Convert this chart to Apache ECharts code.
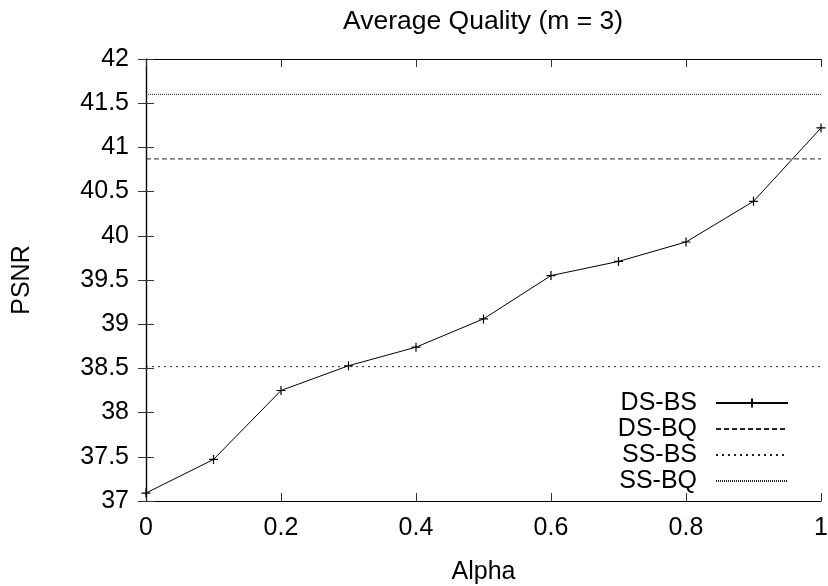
<!DOCTYPE html>
<html>
<head>
<meta charset="utf-8">
<script src="https://cdn.jsdelivr.net/npm/echarts@6/dist/echarts.min.js"></script>
<style>
  html, body { margin: 0; padding: 0; background: #fff; }
  #chart { width: 828px; height: 586px; }
</style>
</head>
<body>
<div id="chart"></div>
<script>
// ---- data ----
const alpha = [0, 0.1, 0.2, 0.3, 0.4, 0.5, 0.6, 0.7, 0.8, 0.9, 1.0];
const dsBs = [37.09, 37.47, 38.25, 38.53, 38.74, 39.06, 39.55, 39.71, 39.93, 40.39, 41.22];
const dsBqLevel = 40.87;
const ssBsLevel = 38.52;
const ssBqLevel = 41.60;
const seriesNames = ['DS-BS', 'DS-BQ', 'SS-BS', 'SS-BQ'];
const xRange = [0, 1];
const yRange = [37, 42];

const FONT = "'Liberation Sans', Arial, Helvetica, sans-serif";
const chart = echarts.init(document.getElementById('chart'), null, { renderer: 'canvas' });

const flat = (v) => xRange.map(x => [x, v]);
const plus = 'path://M0,5L10,5M5,0L5,10';

const axisCommon = {
  type: 'value',
  axisLine: { show: true, lineStyle: { color: '#000', width: 1.2 } },
  axisTick: { show: true, inside: true, length: 8, lineStyle: { color: '#333', width: 1 } },
  splitLine: { show: false }
};

const option = {
  backgroundColor: '#fff',
  animation: false,
  title: {
    text: 'Average Quality (m = 3)',
    left: 343, top: 8, padding: 0,
    textStyle: { fontFamily: FONT, fontSize: 26.5, fontWeight: 'normal', color: '#000' }
  },
  grid: { left: 146, right: 7, top: 59, bottom: 85, containLabel: false, outerBoundsMode: 'none' },
  legend: {
    orient: 'vertical',
    align: 'right',
    right: 39, top: 390, padding: 0,
    itemWidth: 72, itemHeight: 11, itemGap: 0,
    data: [
      { name: seriesNames[0] },
      { name: seriesNames[1], itemStyle: { opacity: 0 } },
      { name: seriesNames[2], itemStyle: { opacity: 0 } },
      { name: seriesNames[3], itemStyle: { opacity: 0 } }
    ],
    textStyle: { fontFamily: FONT, fontSize: 25, color: '#000', lineHeight: 26, padding: [0, 14, 0, 0] }
  },
  xAxis: [
    Object.assign({}, axisCommon, {
      position: 'bottom', min: xRange[0], max: xRange[1], interval: 0.2,
      name: 'Alpha', nameLocation: 'middle', nameGap: 59,
      nameTextStyle: { fontFamily: FONT, fontSize: 25, color: '#000' },
      axisLabel: { fontFamily: FONT, fontSize: 25, color: '#000', margin: 15 }
    }),
    Object.assign({}, axisCommon, {
      position: 'top', min: xRange[0], max: xRange[1], interval: 0.2,
      axisLabel: { show: false }
    })
  ],
  yAxis: [
    Object.assign({}, axisCommon, {
      position: 'left', min: yRange[0], max: yRange[1], interval: 0.5,
      name: 'PSNR', nameLocation: 'middle', nameGap: 111,
      nameTextStyle: { fontFamily: FONT, fontSize: 25, color: '#000' },
      axisLabel: { fontFamily: FONT, fontSize: 25, color: '#000', margin: 17 }
    }),
    Object.assign({}, axisCommon, {
      position: 'right', min: yRange[0], max: yRange[1], interval: 0.5,
      axisLabel: { show: false }
    })
  ],
  series: [
    {
      name: seriesNames[0], type: 'line',
      data: alpha.map((a, i) => [a, dsBs[i]]),
      symbol: plus, symbolSize: 9, showSymbol: true,
      lineStyle: { color: '#000', width: 1 },
      itemStyle: { color: '#000', borderColor: '#000', borderWidth: 1.2 },
      z: 5
    },
    {
      name: seriesNames[1], type: 'line', data: flat(dsBqLevel), symbol: 'none',
      lineStyle: { color: '#222', width: 1, type: [5, 3] },
      itemStyle: { color: '#222' }
    },
    {
      name: seriesNames[2], type: 'line', data: flat(ssBsLevel), symbol: 'none',
      lineStyle: { color: '#222', width: 1, type: [2, 4] },
      itemStyle: { color: '#222' }
    },
    {
      name: seriesNames[3], type: 'line', data: flat(ssBqLevel), symbol: 'none',
      lineStyle: { color: '#222', width: 1, type: [1, 1] },
      itemStyle: { color: '#222' }
    }
  ]
};
chart.setOption(option);
</script>
</body>
</html>
